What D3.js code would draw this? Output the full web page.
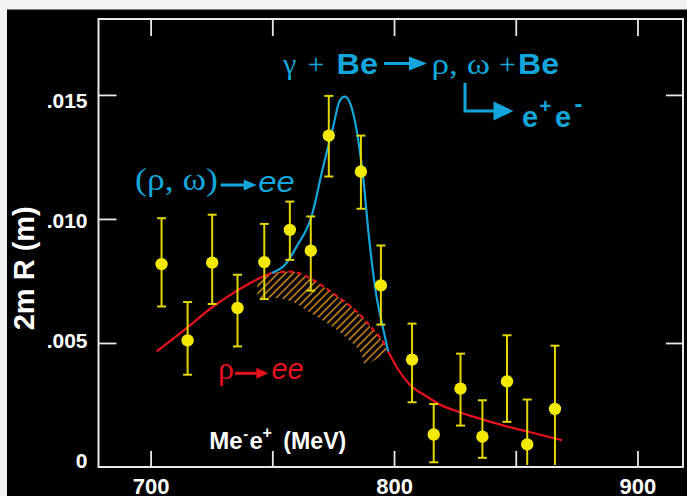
<!DOCTYPE html>
<html><head><meta charset="utf-8">
<script src="https://cdn.jsdelivr.net/npm/d3@7"></script>
<style>html,body{margin:0;padding:0;background:#000;overflow:hidden}</style>
</head><body>
<svg id="chart" width="687" height="496"></svg>
<script>
// ---- data ----
const pointMass    = [704.5, 715.2, 725.3, 735.7, 746.7, 757.2, 765.8, 773.2, 786.4, 794.6, 807.4, 816.3, 827.3, 836.3, 846.4, 854.7, 866.1];
const pointValue   = [.00818, .00510, .00824, .00641, .00826, .00956, .00872, .01336, .01191, .00732, .00433, .00131, .00316, .00122, .00345, .00091, .00234];
const pointErrHigh = [.01003, .00665, .01017, .00775, .00980, .01070, .01010, .01496, .01336, .00893, .00578, .00254, .00457, .00269, .00531, .00272, .00489];
const pointErrLow  = [.00647, .00372, .00657, .00486, .00677, .00835, .00711, .01171, .01041, .00574, .00261, .00019, .00167, .00037, .00182, .00000, .00000];

const rhoMass  = [702.5, 714.8, 725.7, 733.9, 743.5, 749.7, 757.2, 764.1, 770.9, 777.7, 784.6, 791.4, 796.2, 797.6, 801.7, 806.5, 813.3, 818.8, 827.0, 836.6, 846.2, 854.4, 869.0];
const rhoValue = [.00466, .00560, .00647, .00701, .00755, .00782, .00788, .00768, .00728, .00681, .00627, .00554, .00493, .00466, .00393, .00332, .00285, .00252, .00221, .00191, .00164, .00144, .00108];

const omegaMass  = [749.7, 755.2, 760.0, 766.1, 770.9, 775.0, 777.7, 779.8, 783.2, 785.3, 787.3, 789.4, 790.9, 792.8, 794.9, 797.6];
const omegaValue = [.00782, .00815, .00889, .01010, .01211, .01372, .01477, .01493, .01426, .01318, .01171, .00956, .00823, .00688, .00586, .00466];

// lower edge of the hatched interference band
const bandMass  = [743.8, 752.4, 759.3, 764.7, 770.2, 775.7, 780.5, 786.0, 788.0];
const bandValue = [.00681, .00681, .00661, .00627, .00594, .00558, .00520, .00466, .00406];

const xTickValues = [700, 750, 800, 850, 900];
const xTickLabels = ["700", "", "800", "", "900"];
const yTickValues = [0.005, 0.010, 0.015];
const yRightTickValues = [0.005, 0.015];
const yLabelValues = [0, 0.005, 0.010, 0.015];
const yLabelTexts = ["0", ".005", ".010", ".015"];

// ---- layout ----
const W = 687, H = 496;
const plot = {left: 98.5, right: 683, top: 19, bottom: 467};
const BLUE = "#14a6da", RED = "#e8121c", YEL = "#f2e900", YEL2 = "#e2d800", ORANGE = "#e0961f", AX = "#e8e8e8";
const SANS = "'Liberation Sans', Arial, Helvetica, sans-serif";
const SERIF = "'Liberation Serif', 'Times New Roman', serif";

const svg = d3.select("#chart");
svg.append("rect").attr("width", W).attr("height", H).attr("fill", "#000");
svg.append("rect").attr("width", W).attr("height", 9.5).attr("fill", "#f2f2f2");
svg.append("rect").attr("width", 7).attr("height", H).attr("fill", "#f2f2f2");

const x = d3.scaleLinear().domain([678.6, 918.7]).range([plot.left, plot.right]);
const y = d3.scaleLinear().domain([0, 0.01806]).range([plot.bottom, plot.top]);

// hatch pattern
const defs = svg.append("defs");
const pat = defs.append("pattern").attr("id", "hatch").attr("patternUnits", "userSpaceOnUse")
  .attr("width", 5.4).attr("height", 10).attr("patternTransform", "rotate(45)");
pat.append("line").attr("x1", 1).attr("y1", -1).attr("x2", 1).attr("y2", 11)
  .attr("stroke", ORANGE).attr("stroke-width", 1.4);

// axes
function styleAxis(g) {
  g.select(".domain").remove();
  g.selectAll(".tick line").attr("stroke", AX).attr("stroke-width", 1.8);
}
svg.append("g").attr("transform", `translate(0,${plot.bottom})`)
  .call(d3.axisBottom(x).tickValues(xTickValues).tickSize(-16).tickPadding(11.5)
        .tickFormat((d, i) => xTickLabels[i]))
  .call(styleAxis)
  .call(g => g.selectAll("text").attr("fill", "#fff").attr("font-family", SANS)
        .attr("font-weight", "bold").attr("font-size", 22));
svg.append("g").attr("transform", `translate(0,${plot.top})`)
  .call(d3.axisTop(x).tickValues(xTickValues).tickSize(-17).tickFormat(""))
  .call(styleAxis);
svg.append("g").attr("transform", `translate(${plot.left},0)`)
  .call(d3.axisLeft(y).tickValues(yTickValues).tickSize(-18).tickFormat(""))
  .call(styleAxis);
svg.append("g").attr("transform", `translate(${plot.right},0)`)
  .call(d3.axisRight(y).tickValues(yRightTickValues).tickSize(-17).tickFormat(""))
  .call(styleAxis);

// y tick labels (their baselines drift slightly in the original)
const yLabelBase = d3.scaleLinear().domain([0, 0.015]).range([y(0) + 1.3, y(0.015) + 13]);
svg.append("g").selectAll("text").data(yLabelValues).join("text")
  .attr("x", 87.5).attr("y", d => yLabelBase(d))
  .attr("text-anchor", "end").attr("fill", "#fff")
  .attr("font-family", SANS).attr("font-size", 21).attr("font-weight", "bold")
  .text((d, i) => yLabelTexts[i]);

// frame
svg.append("rect").attr("x", plot.left).attr("y", plot.top)
  .attr("width", plot.right - plot.left).attr("height", plot.bottom - plot.top)
  .attr("fill", "none").attr("stroke", AX).attr("stroke-width", 2);

// hatched band: upper edge follows the rho curve, lower edge from bandMass/bandValue
const rhoPts = rhoMass.map((m, i) => [m, rhoValue[i]]);
const rhoAt = d3.scaleLinear().domain(rhoMass).range(rhoValue);
const mEnd = omegaMass[omegaMass.length - 1];
const upper = [[bandMass[0], rhoAt(bandMass[0])], ...rhoPts.filter(p => p[0] > bandMass[0] && p[0] <= mEnd)];
const lower = bandMass.map((m, i) => [m, bandValue[i]]).reverse();
const smooth = d3.line().x(d => x(d[0])).y(d => y(d[1])).curve(d3.curveMonotoneX);
const lowerStr = d3.line().x(d => x(d[0])).y(d => y(d[1])).curve(d3.curveCatmullRom)(lower).replace(/^M/, "L");
svg.append("path").attr("d", smooth(upper) + lowerStr + "Z").attr("fill", "url(#hatch)");

// rho curve: solid / dashed / solid
const line = smooth;
const mStart = omegaMass[0];
svg.append("path").attr("d", line(rhoPts.filter(p => p[0] <= mStart)))
  .attr("fill", "none").attr("stroke", RED).attr("stroke-width", 2.2);
svg.append("path").attr("d", line(rhoPts.filter(p => p[0] >= mStart && p[0] <= mEnd)))
  .attr("fill", "none").attr("stroke", RED).attr("stroke-width", 2.2).attr("stroke-dasharray", "5,3.5");
svg.append("path").attr("d", line(rhoPts.filter(p => p[0] >= mEnd)))
  .attr("fill", "none").attr("stroke", RED).attr("stroke-width", 2.2);

// omega curve
svg.append("path").attr("d", line(omegaMass.map((m, i) => [m, omegaValue[i]])))
  .attr("fill", "none").attr("stroke", BLUE).attr("stroke-width", 2.2);

// data points with error bars
const pts = pointMass.map((m, i) => ({m, v: pointValue[i], hi: pointErrHigh[i], lo: pointErrLow[i]}));
const gp = svg.append("g");
gp.selectAll("line.bar").data(pts).join("line").attr("class", "bar")
  .attr("x1", d => x(d.m)).attr("x2", d => x(d.m))
  .attr("y1", d => y(d.hi)).attr("y2", d => Math.min(y(d.lo), plot.bottom - 2))
  .attr("stroke", YEL2).attr("stroke-width", 2);
gp.selectAll("line.capHi").data(pts).join("line").attr("class", "capHi")
  .attr("x1", d => x(d.m) - 4.5).attr("x2", d => x(d.m) + 4.5)
  .attr("y1", d => y(d.hi)).attr("y2", d => y(d.hi))
  .attr("stroke", YEL2).attr("stroke-width", 2);
gp.selectAll("line.capLo").data(pts.filter(d => d.lo > 0)).join("line").attr("class", "capLo")
  .attr("x1", d => x(d.m) - 4.5).attr("x2", d => x(d.m) + 4.5)
  .attr("y1", d => y(d.lo)).attr("y2", d => y(d.lo))
  .attr("stroke", YEL2).attr("stroke-width", 2);
gp.selectAll("circle").data(pts).join("circle")
  .attr("cx", d => x(d.m)).attr("cy", d => y(d.v)).attr("r", 6.2).attr("fill", YEL);

// ---- annotations ----
function txt(xp, yp, s, o) {
  const t = svg.append("text").attr("x", xp).attr("y", yp).text(s)
    .attr("fill", o.fill).attr("font-family", o.family || SANS)
    .attr("font-size", o.size).attr("font-weight", o.weight || "normal")
    .attr("font-style", o.style || "normal");
  if (o.len) t.attr("textLength", o.len).attr("lengthAdjust", "spacingAndGlyphs");
  return t;
}
function arrow(x1, x2, yy, head, half, color, sw) {
  svg.append("line").attr("x1", x1).attr("x2", x2 - head + 1).attr("y1", yy).attr("y2", yy)
    .attr("stroke", color).attr("stroke-width", sw);
  svg.append("path").attr("d", `M${x2 - head},${yy - half}L${x2},${yy}L${x2 - head},${yy + half}Z`).attr("fill", color);
}

// title reaction
txt(283, 73.5, "γ", {fill: BLUE, family: SERIF, size: 30});
txt(307.5, 73.5, "+", {fill: BLUE, family: SERIF, size: 30});
txt(336.5, 73.5, "Be", {fill: BLUE, size: 29, weight: "bold", len: 41.5});
arrow(384, 427, 63.5, 18, 7, BLUE, 3);
txt(431.5, 73.5, "ρ, ω", {fill: BLUE, family: SERIF, size: 30, len: 58.5});
txt(499, 73.5, "+", {fill: BLUE, family: SERIF, size: 30});
txt(518, 73.5, "Be", {fill: BLUE, size: 29, weight: "bold", len: 41});
svg.append("path").attr("d", "M465,83V111H495").attr("fill", "none").attr("stroke", BLUE).attr("stroke-width", 3);
svg.append("path").attr("d", "M493.5,101.5L513.5,111L493.5,120.5Z").attr("fill", BLUE);
txt(522, 126.7, "e", {fill: BLUE, size: 29, weight: "bold"});
txt(539.5, 113, "+", {fill: BLUE, size: 20, weight: "bold"});
txt(555, 126.7, "e", {fill: BLUE, size: 29, weight: "bold"});
txt(574.5, 112, "-", {fill: BLUE, size: 24, weight: "bold"});

// (rho, omega) -> ee
txt(135, 190, "(ρ, ω)", {fill: BLUE, family: SERIF, size: 32, len: 83});
arrow(220.7, 256.7, 185, 13, 5.5, BLUE, 3);
txt(258.3, 191.7, "ee", {fill: BLUE, size: 29, style: "italic", len: 36.5});

// rho -> ee
txt(218, 378.5, "ρ", {fill: RED, family: SERIF, size: 32});
arrow(235, 268.3, 373.3, 12, 5.5, RED, 3);
txt(271.5, 378.5, "ee", {fill: RED, size: 29, style: "italic", len: 32});

// x axis title
txt(209.3, 449.3, "Me", {fill: "#fff", size: 24, weight: "bold"});
txt(243.3, 439, "-", {fill: "#fff", size: 15, weight: "bold"});
txt(249.5, 449.3, "e", {fill: "#fff", size: 24, weight: "bold"});
txt(262.5, 438, "+", {fill: "#fff", size: 16, weight: "bold"});
txt(283.3, 449.3, "(MeV)", {fill: "#fff", size: 23, weight: "bold", len: 63});

// y axis title
svg.append("text").attr("transform", "translate(33.5,268.3) rotate(-90)")
  .attr("text-anchor", "middle").attr("fill", "#fff").attr("font-family", SANS)
  .attr("font-size", 29).attr("font-weight", "bold").text("2m R (m)");
</script>
</body></html>
